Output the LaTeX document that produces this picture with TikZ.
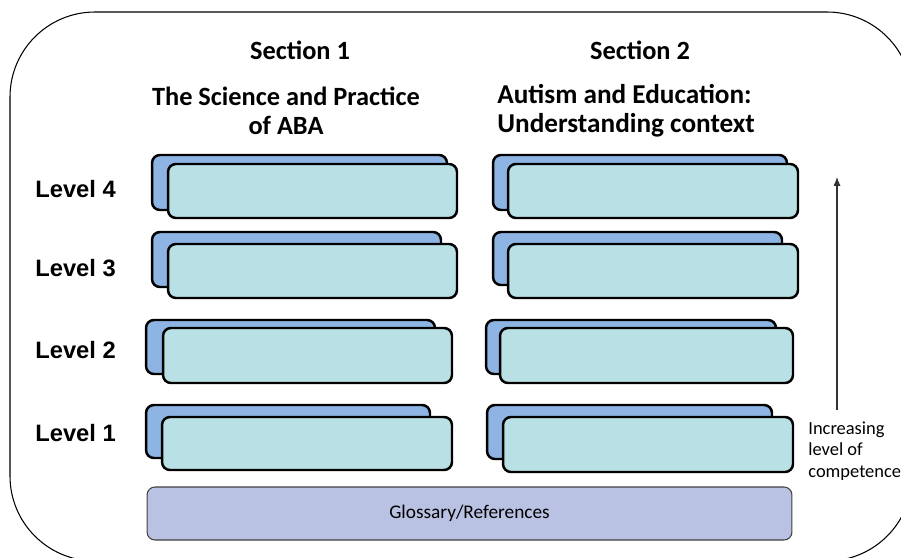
\documentclass[tikz,border=0pt]{standalone}
\usepackage{fontspec}
\usetikzlibrary{arrows.meta}
\setmainfont{Carlito}
\newfontfamily\levelfont{Liberation Sans}

\definecolor{backblue}{RGB}{142,180,227}
\definecolor{frontaqua}{RGB}{185,224,228}
\definecolor{glossfill}{RGB}{185,194,227}

\tikzset{
  card/.style={draw, line width=1.4pt, rounded corners=4.5pt, inner sep=0pt},
  backcard/.style={card, fill=backblue},
  frontcard/.style={card, fill=frontaqua},
  heading/.style={font=\fontsize{15}{16.5}\selectfont\bfseries, inner sep=0pt},
  levellabel/.style={font=\levelfont\fontsize{13.5}{16}\selectfont\bfseries, anchor=west, inner sep=0pt},
}

\begin{document}
\begin{tikzpicture}[x=0.02cm, y=-0.02cm]
  \clip (0,0) rectangle (901,557);
  \draw[line width=0.6pt, rounded corners=1.7cm] (10,12) rectangle (912,561);

  \node[heading] (sec1) at (300,50) {Section 1};
  \node[heading] (sec2) at (640,50) {Section 2};
  \node[heading, align=center] (title1) at (286,111) {The Science and Practice\\of ABA};
  \node[heading, align=left, anchor=west, font=\fontsize{15.5}{16.5}\selectfont\bfseries]
        (title2) at (497,111) {Autism and Education:\\Understanding context};

  \node[levellabel] (lev4) at (35,189) {Level 4};
  \node[levellabel] (lev3) at (35,268) {Level 3};
  \node[levellabel] (lev2) at (35,350) {Level 2};
  \node[levellabel] (lev1) at (35,433) {Level 1};

  % level 4
  \node[backcard, minimum width=5.9cm, minimum height=1.1cm] (s1l4b) at (299.5,182.5) {};
  \node[frontcard, minimum width=5.78cm, minimum height=1.08cm] (s1l4) at (312.5,191) {};
  \node[backcard, minimum width=5.88cm, minimum height=1.1cm] (s2l4b) at (640,182.5) {};
  \node[frontcard, minimum width=5.8cm, minimum height=1.08cm] (s2l4) at (653,191) {};
  % level 3
  \node[backcard, minimum width=5.78cm, minimum height=1.1cm] (s1l3b) at (296.5,259.5) {};
  \node[frontcard, minimum width=5.78cm, minimum height=1.08cm] (s1l3) at (312.5,271) {};
  \node[backcard, minimum width=5.78cm, minimum height=1.06cm] (s2l3b) at (637.5,258.5) {};
  \node[frontcard, minimum width=5.8cm, minimum height=1.08cm] (s2l3) at (653,271) {};
  % level 2
  \node[backcard, minimum width=5.78cm, minimum height=1.08cm] (s1l2b) at (290.5,347) {};
  \node[frontcard, minimum width=5.78cm, minimum height=1.1cm] (s1l2) at (307.5,355.5) {};
  \node[backcard, minimum width=5.8cm, minimum height=1.08cm] (s2l2b) at (631,347) {};
  \node[frontcard, minimum width=5.86cm, minimum height=1.1cm] (s2l2) at (646.5,355.5) {};
  % level 1
  \node[backcard, minimum width=5.68cm, minimum height=1.06cm] (s1l1b) at (288,431.5) {};
  \node[frontcard, minimum width=5.8cm, minimum height=1.06cm] (s1l1) at (307,443.5) {};
  \node[backcard, minimum width=5.7cm, minimum height=1.08cm] (s2l1b) at (629.5,432) {};
  \node[frontcard, minimum width=5.8cm, minimum height=1.1cm] (s2l1) at (648,444.5) {};

  \node[draw=black!75, line width=0.6pt, fill=glossfill, rounded corners=4.5pt,
        minimum width=12.9cm, minimum height=1.06cm, font=\fontsize{11}{13}\selectfont]
        (gloss) at (469.5,513.5) {Glossary/References};

  \coordinate (arrowfoot) at (837,410);
  \coordinate (arrowtip) at (837,177);
  \draw[line width=0.6pt, black!80, -{Latex[length=5pt,width=4pt]}] (arrowfoot) -- (arrowtip);
  \node[anchor=west, align=left, inner sep=0pt, font=\fontsize{10.5}{12.3}\selectfont]
        (competence) at (808,451) {Increasing\\level of\\competence};
\end{tikzpicture}
\end{document}
